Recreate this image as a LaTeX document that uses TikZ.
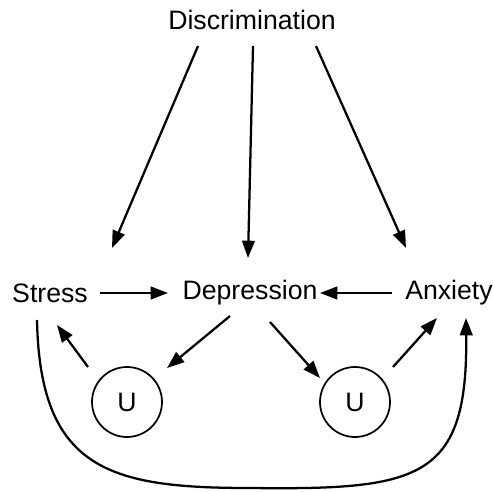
\documentclass[tikz,border=0pt]{standalone}
\usepackage{fontspec}
\setmainfont{Liberation Sans}
\usetikzlibrary{arrows.meta,positioning,calc}

\begin{document}
\begin{tikzpicture}[
  x=0.75pt,y=-0.75pt,
  var/.style={inner sep=0pt,font=\fontsize{20}{24}\selectfont},
  latent/.style={circle,draw,line width=1.3pt,minimum size=52.5pt,inner sep=0pt,font=\fontsize{20}{24}\selectfont},
  link/.style={-{Triangle[length=13pt,width=9.5pt]},line width=1.7pt},
]
\useasboundingbox (0,0) rectangle (493,492);

% Observed variables
\node[var] (disc) at (252,20) {Discrimination};
\node[var] (stress) at (50,293) {Stress};
\node[var] (dep) at (250,293) {Depression};
\node[var] (anx) at (449,293) {Anxiety};

% Unobserved confounders
\node[latent] (u1) at (127,402) {U};
\node[latent] (u2) at (355,402) {U};

% Discrimination affects all three outcomes
\foreach \from/\target/\to in {-54/stress/{62,-45}, 1/dep/{-2,-35}, 64/anx/{-43,-45}}
  \draw[link] ($(disc)+(\from,26)$) -- ($(\target)+(\to)$);

\draw[link] ($(stress)+(50,0)$) -- ($(dep)+(-82,0)$);
\draw[link] ($(anx)+(-57,0)$) -- ($(dep)+(70,0)$);

\draw[link] ($(dep)+(-20,23)$) -- ($(u1)+(40,-34)$);
\draw[link] ($(u1)+(-39,-35)$) -- ($(stress)+(7,32)$);
\draw[link] ($(dep)+(20,29)$) -- ($(u2)+(-35,-24)$);
\draw[link] ($(u2)+(38,-35)$) -- ($(anx)+(-12,25)$);

% Stress -> Anxiety round the bottom
\coordinate (low) at (250,488);
\draw[link] ($(stress)+(-13,27)$) .. controls (40,470) and (110,488) .. (low)
  .. controls (420,490) and (468,480) .. ($(anx)+(17,25)$);
\end{tikzpicture}
\end{document}
